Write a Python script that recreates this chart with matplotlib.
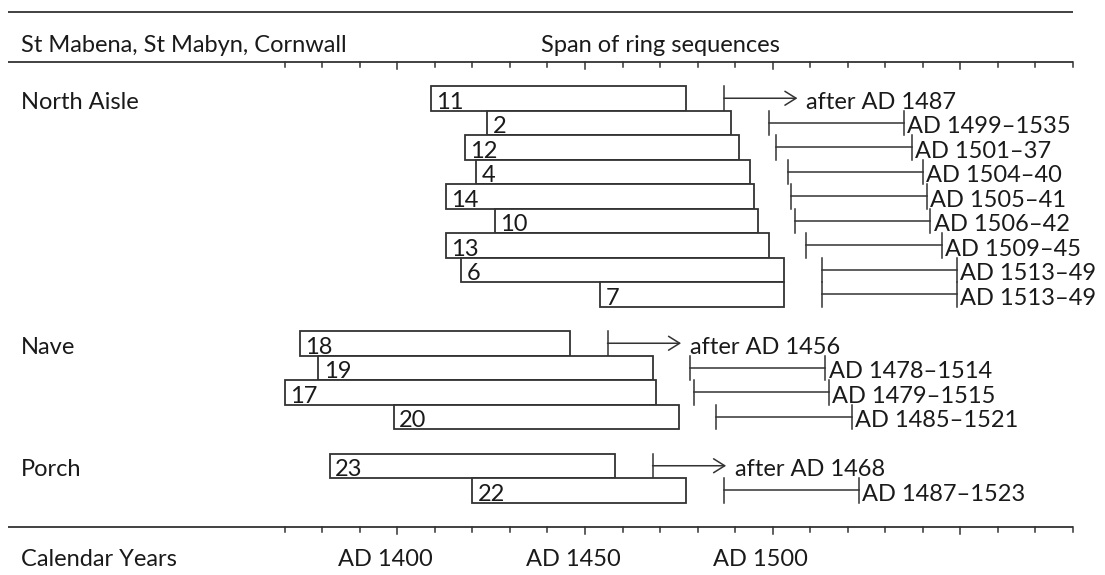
import matplotlib
matplotlib.use("Agg")
import matplotlib.pyplot as plt
from matplotlib.patches import Rectangle

# ring sequences: (sample id, first ring year, last ring year), grouped by location
north_ids = ["11", "2", "12", "4", "14", "10", "13", "6", "7"]
north_start = [1409, 1424, 1418, 1421, 1413, 1426, 1413, 1417, 1454]
north_end = [1477, 1489, 1491, 1494, 1495, 1496, 1499, 1503, 1503]
north_fell_from = [1487, 1499, 1501, 1504, 1505, 1506, 1509, 1513, 1513]
north_fell_to = [None, 1535, 1537, 1540, 1541, 1542, 1545, 1549, 1549]
north_fell_lbl = ["after AD 1487", "AD 1499–1535", "AD 1501–37", "AD 1504–40",
                  "AD 1505–41", "AD 1506–42", "AD 1509–45", "AD 1513–49", "AD 1513–49"]

nave_ids = ["18", "19", "17", "20"]
nave_start = [1374, 1379, 1370, 1399]
nave_end = [1446, 1468, 1469, 1475]
nave_fell_from = [1456, 1478, 1479, 1485]
nave_fell_to = [None, 1514, 1515, 1521]
nave_fell_lbl = ["after AD 1456", "AD 1478–1514", "AD 1479–1515", "AD 1485–1521"]

porch_ids = ["23", "22"]
porch_start = [1382, 1420]
porch_end = [1458, 1477]
porch_fell_from = [1468, 1487]
porch_fell_to = [None, 1523]
porch_fell_lbl = ["after AD 1468", "AD 1487–1523"]

groups = ["North Aisle", "Nave", "Porch"]
group_first_row = [0, 10, 15]

tick_years = list(range(1370, 1581, 10))
label_years = [1400, 1450, 1500]
label_texts = ["AD 1400", "AD 1450", "AD 1500"]

LINE = "#333333"
TEXT = "#1a1a1a"
FONT = ["Lato", "DejaVu Sans"]
FS = 17

PX_PER_YEAR = 3.754
X0 = 1400 - 397.3 / PX_PER_YEAR
ROW_PX = 24.5
TOP_PX = 86


def py(p):
    # pixel row -> y units (one unit per sequence row)
    return (p - TOP_PX) / ROW_PX


def put(x, y, s, **kw):
    ax.text(x, y, s, fontsize=FS, family=FONT, color=TEXT, va="baseline", **kw)


fig = plt.figure(figsize=(11.05, 5.75), dpi=100)
ax = fig.add_axes([0, 0, 1, 1])
ax.set_xlim(X0, X0 + 1105 / PX_PER_YEAR)
ax.set_ylim(py(575), py(0))
ax.axis("off")

x_left = X0 + 8.5 / PX_PER_YEAR
x_right = 1580
x_text = X0 + 21 / PX_PER_YEAR

# rules
for yy in [py(12), py(62), py(527)]:
    ax.plot([x_left, x_right], [yy, yy], color=LINE, lw=1.3, solid_capstyle="butt")
for ybase in [py(62), py(527)]:
    for yr in tick_years:
        ln = 7 if yr % 50 == 0 else 5
        ax.plot([yr, yr], [ybase, ybase + ln / ROW_PX], color=LINE, lw=1.1)

put(x_text, py(52), "St Mabena, St Mabyn, Cornwall")
put(X0 + 541 / PX_PER_YEAR, py(52), "Span of ring sequences")
put(x_text, py(566), "Calendar Years")
for yr, t in zip(label_years, label_texts):
    put(yr - 3.2, py(566), t, ha="center")

for g, r0 in zip(groups, group_first_row):
    put(x_text, r0 + 0.92, g)

ARROW_YEARS = 19.6


def draw_group(r0, ids, starts, ends, f_from, f_to, f_lbl):
    for i in range(len(ids)):
        r = r0 + i
        ax.add_patch(Rectangle((starts[i], r), ends[i] - starts[i], 1, facecolor="white",
                               edgecolor=LINE, lw=1.3, zorder=2))
        ax.text(starts[i] + 1.4, r + 0.93, ids[i], fontsize=FS, family=FONT,
                color=TEXT, va="baseline", zorder=3)
        yc = r + 0.5
        ax.plot([f_from[i], f_from[i]], [r, r + 1], color=LINE, lw=1.1)
        if f_to[i] is None:
            tip = f_from[i] + ARROW_YEARS
            ax.annotate("", xy=(tip, yc), xytext=(f_from[i], yc),
                        arrowprops=dict(arrowstyle="->,head_length=0.8,head_width=0.5",
                                        color=LINE, lw=1.1, shrinkA=0, shrinkB=0,
                                        mutation_scale=10))
            put(tip + 2.4, r + 0.93, f_lbl[i])
        else:
            ax.plot([f_from[i], f_to[i]], [yc, yc], color=LINE, lw=1.1)
            ax.plot([f_to[i], f_to[i]], [r, r + 1], color=LINE, lw=1.1)
            put(f_to[i] + 0.9, r + 0.93, f_lbl[i])


draw_group(0, north_ids, north_start, north_end, north_fell_from, north_fell_to, north_fell_lbl)
draw_group(10, nave_ids, nave_start, nave_end, nave_fell_from, nave_fell_to, nave_fell_lbl)
draw_group(15, porch_ids, porch_start, porch_end, porch_fell_from, porch_fell_to, porch_fell_lbl)

fig.savefig("out.png", dpi=100, facecolor="white")
